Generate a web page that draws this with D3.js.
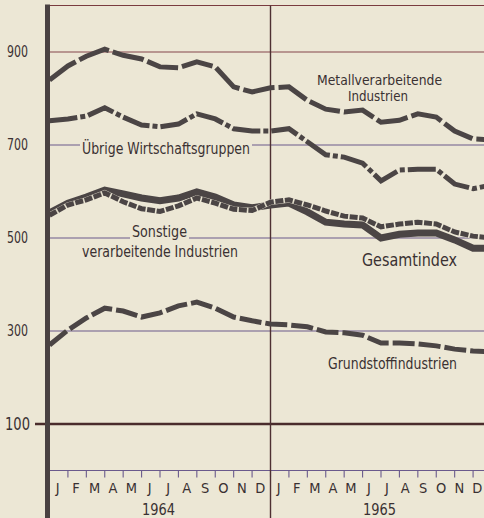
<!DOCTYPE html>
<html><head><meta charset="utf-8">
<script src="https://cdn.jsdelivr.net/npm/d3@7"></script>
<style>html,body{margin:0;padding:0;background:#ece7d5;} svg{display:block;}</style>
</head><body><svg id="c" width="484" height="518"></svg>
<script>
// Month-boundary points: index 0 = left axis (start of Jan 1964), 24 = end of Dec 1965
const months = ["J","F","M","A","M","J","J","A","S","O","N","D"];
const years = ["1964","1965"];
const yTicks = [900, 700, 500, 300, 100];
const metall     = [840,870,891,906,893,885,868,866,879,868,825,814,823,825,796,777,771,775,749,753,767,760,730,713,711];
const uebrige    = [752,756,762,780,760,743,739,745,767,756,735,730,730,735,707,679,674,661,623,646,648,648,616,606,614];
const gesamt     = [554,575,588,603,595,586,580,586,599,588,571,565,571,575,556,534,530,528,500,508,511,511,496,478,478];
const sonstige   = [549,571,582,597,578,563,557,569,586,575,562,559,577,582,571,558,547,543,524,530,534,530,513,504,500];
const grundstoff = [270,302,328,349,343,330,339,354,362,349,330,322,315,313,309,298,296,291,274,274,272,268,261,257,255];

const W = 484, H = 518;
const PAPER = "#ece7d5", INK = "#4b4545", TXT = "#3a3132";
const FONT = "'Liberation Sans Narrow','DejaVu Sans Condensed','Roboto Condensed','Liberation Sans',sans-serif";
const svg = d3.select("#c");
svg.append("rect").attr("width", W).attr("height", H).attr("fill", PAPER);

const x = d3.scaleLinear().domain([0, 24]).range([49.5, 491.5]);
const y = d3.scaleLinear().domain([0, 1000]).range([470.5, 5.5]);

// gridlines
const grid = svg.append("g");
grid.append("line").attr("x1", 48).attr("x2", W).attr("y1", y(1000)).attr("y2", y(1000))
  .attr("stroke", "#7a3c40").attr("stroke-width", 1.2);
yTicks.forEach(v => {
  const is100 = v === 100;
  grid.append("line").attr("x1", is100 ? 35 : 48).attr("x2", W).attr("y1", y(v)).attr("y2", y(v))
    .attr("stroke", is100 ? "#4a2c2c" : (v === 900 ? "#84474c" : "#6a5a8c"))
    .attr("stroke-width", is100 ? 2.4 : 1.1);
});
// baseline with month ticks
grid.append("line").attr("x1", 48).attr("x2", W).attr("y1", y(0)).attr("y2", y(0))
  .attr("stroke", "#6a5a8c").attr("stroke-width", 1.2);
d3.range(1, 25).forEach(k => {
  grid.append("line").attr("x1", x(k)).attr("x2", x(k)).attr("y1", y(0)).attr("y2", y(0) + 7)
    .attr("stroke", "#6a5a8c").attr("stroke-width", 1.1);
});
// year divider
grid.append("line").attr("x1", x(12)).attr("x2", x(12)).attr("y1", y(1000)).attr("y2", H)
  .attr("stroke", "#4e3032").attr("stroke-width", 1.4);

// labels with paper background (break gridlines)
function label(txt, cx, by, len, size, bg) {
  const t = svg.append("text").attr("x", cx).attr("y", by).attr("text-anchor", "middle")
    .attr("font-family", FONT).attr("font-size", size).attr("fill", TXT)
    .attr("textLength", len).attr("lengthAdjust", "spacingAndGlyphs").text(txt);
  if (bg) {
    svg.insert("rect", "text").attr("x", cx - len / 2 - 2).attr("y", by - size * 0.8)
      .attr("width", len + 4).attr("height", size).attr("fill", PAPER);
  }
  return t;
}
label("Übrige Wirtschaftsgruppen", 166, 154, 168, 15, true);
label("Sonstige", 159.5, 237, 55, 15, true);
label("verarbeitende Industrien", 160, 257, 156, 15, false);
label("Metallverarbeitende", 379.5, 85, 125, 14, false);
label("Industrien", 378, 101, 60, 14, false);
label("Gesamtindex", 409.5, 266, 95, 18, false);
label("Grundstoffindustrien", 392.5, 369, 129, 15, false);

// series
const line = d3.line().x((d, i) => x(i)).y(d => y(d));
const lines = svg.append("g").attr("fill", "none").attr("stroke-linejoin", "miter");
lines.append("path").attr("d", line(grundstoff)).attr("stroke", INK).attr("stroke-width", 5)
  .attr("stroke-dasharray", "22,4");
lines.append("path").attr("d", line(metall)).attr("stroke", INK).attr("stroke-width", 5)
  .attr("stroke-dasharray", "32,4");
lines.append("path").attr("d", line(uebrige)).attr("stroke", INK).attr("stroke-width", 5)
  .attr("stroke-dasharray", "28,3,5,3");
lines.append("path").attr("d", line(gesamt)).attr("stroke", INK).attr("stroke-width", 7);
lines.append("path").attr("d", line(sonstige)).attr("stroke", PAPER).attr("stroke-width", 5.6)
  .attr("stroke-opacity", 0.9);
lines.append("path").attr("d", line(sonstige)).attr("stroke", INK).attr("stroke-width", 5)
  .attr("stroke-dasharray", "8,1.6");

// y axis
svg.append("line").attr("x1", 47.5).attr("x2", 47.5).attr("y1", 4.5).attr("y2", H)
  .attr("stroke", "#4a4242").attr("stroke-width", 5);

// y tick labels
yTicks.forEach(v => {
  const big = v === 100;
  svg.append("text").attr("x", big ? 30 : 28).attr("y", y(v) + (big ? 6 : 5)).attr("text-anchor", "end")
    .attr("font-family", FONT).attr("font-size", big ? 17 : 15).attr("fill", TXT)
    .attr("textLength", big ? 25 : 21).attr("lengthAdjust", "spacingAndGlyphs").text(v);
});

// month labels (1965 set slightly compressed as in the print)
years.forEach((yr, yi) => {
  months.forEach((m, mi) => {
    const k = yi * 12 + mi;
    const shift = yi === 1 ? -0.36 * mi : 0;
    svg.append("text").attr("x", x(k + 0.5) - 1 + shift).attr("y", 493).attr("text-anchor", "middle")
      .attr("font-family", FONT).attr("font-size", 14.5).attr("fill", TXT).text(m);
  });
  svg.append("text").attr("x", x(yi * 12 + 6) - 1.5).attr("y", 514.5).attr("text-anchor", "middle")
    .attr("font-family", FONT).attr("font-size", 15).attr("fill", TXT)
    .attr("textLength", 33).attr("lengthAdjust", "spacingAndGlyphs").text(yr);
});
</script></body></html>
